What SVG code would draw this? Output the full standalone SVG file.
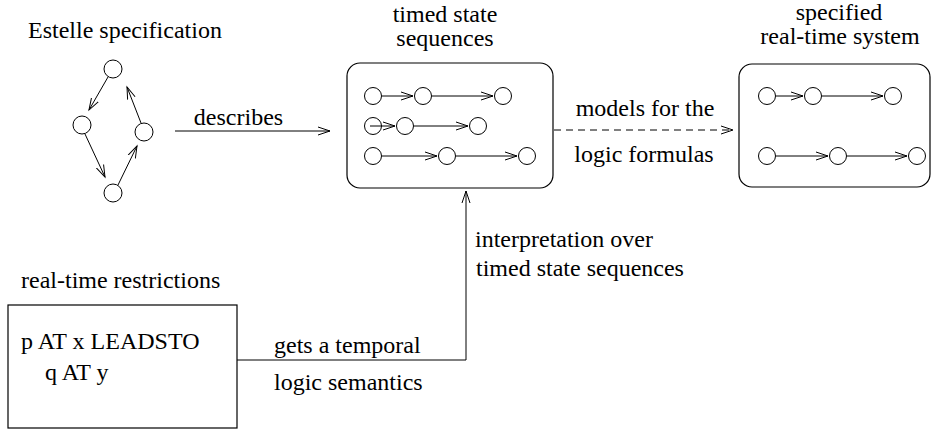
<svg xmlns="http://www.w3.org/2000/svg" width="935" height="431" viewBox="0 0 935 431">
<style>
.c{fill:none;stroke:#000;stroke-width:1}
.l{fill:none;stroke:#000;stroke-width:1;marker-end:url(#a)}
.box{fill:none;stroke:#000;stroke-width:1.2}
</style>
<defs>
<marker id="a" markerWidth="14" markerHeight="10" refX="12" refY="5" orient="auto" markerUnits="userSpaceOnUse" viewBox="0 0 14 10">
<path d="M0,1 L12,5 L0,9" fill="none" stroke="#000" stroke-width="1"/>
</marker>
</defs>
<rect width="935" height="431" fill="#fff"/>
<g font-family="Liberation Serif, Times New Roman, serif" font-size="24" fill="#000">

<g id="estelle">
<text x="28" y="38">Estelle specification</text>
<circle class="c" cx="113" cy="69" r="9"/>
<circle class="c" cx="82" cy="125" r="9"/>
<circle class="c" cx="144" cy="132" r="9"/>
<circle class="c" cx="113" cy="193" r="9"/>
<line class="l" x1="108" y1="77" x2="89" y2="110"/>
<line class="l" x1="85" y1="134" x2="105" y2="177"/>
<line class="l" x1="118" y1="185" x2="137" y2="146"/>
<line class="l" x1="141" y1="123" x2="127" y2="87"/>
</g>

<g id="timed">
<text x="445" y="22" text-anchor="middle">timed state</text>
<text x="445" y="46" text-anchor="middle">sequences</text>
<rect class="box" x="347" y="63" width="206" height="125" rx="13"/>
<circle class="c" cx="373" cy="96" r="8.5"/>
<circle class="c" cx="423" cy="96" r="8.5"/>
<circle class="c" cx="503" cy="96" r="8.5"/>
<line class="l" x1="382" y1="96" x2="413" y2="96"/>
<line class="l" x1="432" y1="96" x2="493" y2="96"/>
<circle class="c" cx="373" cy="126" r="8.5"/>
<circle class="c" cx="405" cy="126" r="8.5"/>
<circle class="c" cx="478" cy="126" r="8.5"/>
<line class="l" x1="370" y1="126" x2="395" y2="126"/>
<line class="l" x1="414" y1="126" x2="468" y2="126"/>
<circle class="c" cx="373" cy="156" r="8.5"/>
<circle class="c" cx="447" cy="156" r="8.5"/>
<circle class="c" cx="527" cy="156" r="8.5"/>
<line class="l" x1="382" y1="156" x2="437" y2="156"/>
<line class="l" x1="456" y1="156" x2="517" y2="156"/>
</g>

<g id="system">
<text x="839" y="20" text-anchor="middle">specified</text>
<text x="840" y="44" text-anchor="middle">real-time system</text>
<rect class="box" x="739" y="64" width="191" height="123" rx="13"/>
<circle class="c" cx="767" cy="96" r="8.5"/>
<circle class="c" cx="813" cy="96" r="8.5"/>
<circle class="c" cx="893" cy="96" r="8.5"/>
<line class="l" x1="776" y1="96" x2="803" y2="96"/>
<line class="l" x1="822" y1="96" x2="883" y2="96"/>
<circle class="c" cx="767" cy="156" r="8.5"/>
<circle class="c" cx="838" cy="156" r="8.5"/>
<circle class="c" cx="917" cy="156" r="8.5"/>
<line class="l" x1="776" y1="156" x2="828" y2="156"/>
<line class="l" x1="847" y1="156" x2="907" y2="156"/>
</g>

<g id="restrictions">
<text x="21" y="288">real-time restrictions</text>
<rect class="box" x="8" y="305" width="229" height="123"/>
<text x="21" y="349">p AT x LEADSTO</text>
<text x="45" y="380">q AT y</text>
</g>

<g id="connectors">
<line class="l" x1="175" y1="131" x2="330" y2="131"/>
<text x="238.5" y="125" text-anchor="middle">describes</text>
<line class="l" x1="554" y1="130" x2="733" y2="130" stroke-dasharray="7,5"/>
<text x="645" y="116" text-anchor="middle">models for the</text>
<text x="644" y="162" text-anchor="middle">logic formulas</text>
<polyline class="l" points="237,360 466,360 466,191"/>
<text x="274" y="353">gets a temporal</text>
<text x="274" y="390">logic semantics</text>
<text x="475" y="247">interpretation over</text>
<text x="476" y="276">timed state sequences</text>
</g>
</g>
</svg>
